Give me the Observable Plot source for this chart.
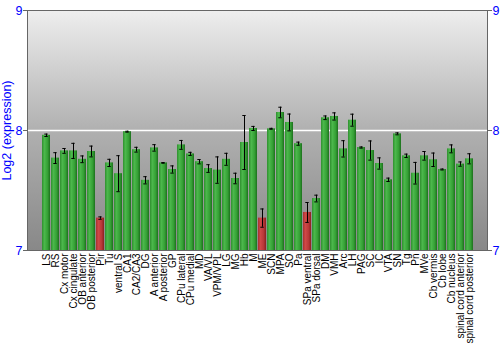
<!DOCTYPE html>
<html><head><meta charset="utf-8">
<script src="https://cdn.jsdelivr.net/npm/d3@7"></script>
<script src="https://cdn.jsdelivr.net/npm/@observablehq/plot@0.6"></script>
<style>body{margin:0;background:#fff;font-family:"Liberation Sans",Arial,sans-serif}</style>
</head><body><div id="chart"></div>
<script>
const regions = ["LS","RS","Cx motor","Cx cingulate","OB anterior","OB posterior","Pir","Tu","ventral S","CA1","CA2/CA3","DG","A anterior","A posterior","GP","CPu lateral","CPu medial","MD","VA/VL","VPM/VPL","LG","MG","Hb","M","ME","SCN","MPA","SO","Pa","SPa ventral","SPa dorsal","DM","VMH","Arc","LH","PAG","SC","IC","VTA","SN","Tg","Pn","MVe","Cb vermis","Cb lobe","Cb nucleus","spinal cord anterior","spinal cord posterior"];
const values = [7.96,7.77,7.83,7.83,7.76,7.825,7.27,7.73,7.64,7.99,7.84,7.585,7.855,7.73,7.675,7.88,7.805,7.74,7.683,7.67,7.76,7.60,7.90,8.017,7.27,8.014,8.15,8.067,7.89,7.317,7.433,8.106,8.117,7.847,8.086,7.858,7.833,7.725,7.589,7.972,7.789,7.644,7.789,7.756,7.675,7.847,7.72,7.764];
const errors = [0.01,0.045,0.02,0.063,0.028,0.045,0.01,0.03,0.15,0.004,0.02,0.03,0.027,0.003,0.03,0.037,0.013,0.018,0.032,0.11,0.05,0.044,0.225,0.017,0.076,0.004,0.044,0.07,0.013,0.083,0.028,0.015,0.03,0.068,0.05,0.005,0.08,0.047,0.014,0.008,0.014,0.09,0.036,0.056,0.004,0.033,0.018,0.042];
const lowRegions = ["Pir","ME","SPa ventral"];
const yTicks = [7, 8, 9];
const yLabel = "Log2 (expression)";

const data = regions.map((r, i) => ({region: r, value: values[i], err: errors[i], low: lowRegions.includes(r)}));

const plot = Plot.plot({
  width: 500, height: 350,
  marginLeft: 27, marginRight: 13, marginTop: 10, marginBottom: 100,
  style: {fontFamily: "Liberation Sans, Arial, sans-serif", background: "#fff", overflow: "visible"},
  x: {domain: regions, padding: 0.16, label: null},
  y: {domain: [7, 9], label: null},
  marks: [
    Plot.frame({fill: "url(#bgGrad)", stroke: null}),
    Plot.ruleY([8], {stroke: "white", strokeWidth: 1.5}),
    Plot.barY(data.filter(d => !d.low), {x: "region", y1: 7, y2: "value", fill: "url(#greenGrad)"}),
    Plot.barY(data.filter(d => d.low), {x: "region", y1: 7, y2: "value", fill: "url(#redGrad)"}),
    Plot.ruleX(data, {x: "region", y1: d => d.value - d.err, y2: d => d.value + d.err, stroke: "black", strokeWidth: 1}),
    Plot.tickY(data, {x: "region", y: d => d.value - d.err, stroke: "black", insetLeft: 2.3, insetRight: 2.3}),
    Plot.tickY(data, {x: "region", y: d => d.value + d.err, stroke: "black", insetLeft: 2.3, insetRight: 2.3}),
    Plot.frame({stroke: "#666"}),
    Plot.axisY({anchor: "left", ticks: yTicks, tickFormat: d3.format("d"), tickSize: 4, tickPadding: 1, stroke: "#666", fill: "blue", fontSize: 12.5,
      label: yLabel, labelAnchor: "center", labelArrow: "none", labelOffset: 25}),
    Plot.axisY({anchor: "right", ticks: yTicks, tickFormat: d3.format("d"), tickSize: 4, tickPadding: 1, stroke: "#666", fill: "blue", fontSize: 12.5, label: null}),
    Plot.axisX({anchor: "bottom", tickRotate: -90, tickSize: 0, tickPadding: 3, fontSize: 10, fill: "black", label: null})
  ]
});

plot.insertAdjacentHTML("afterbegin", `<defs>
<linearGradient id="bgGrad" x1="0" y1="0" x2="0" y2="1">
<stop offset="0" stop-color="#eeeeee"/><stop offset="0.5" stop-color="#b0b0b0"/><stop offset="1" stop-color="#888888"/>
</linearGradient>
<linearGradient id="greenGrad" x1="0" y1="0" x2="1" y2="0">
<stop offset="0" stop-color="#2f8f2f"/><stop offset="0.3" stop-color="#4cb84c"/><stop offset="0.7" stop-color="#35a035"/><stop offset="1" stop-color="#1d701d"/>
</linearGradient>
<linearGradient id="redGrad" x1="0" y1="0" x2="1" y2="0">
<stop offset="0" stop-color="#a83030"/><stop offset="0.3" stop-color="#d04848"/><stop offset="0.7" stop-color="#b83838"/><stop offset="1" stop-color="#8a2020"/>
</linearGradient>
</defs>`);
document.getElementById("chart").appendChild(plot);
</script>
</body></html>
